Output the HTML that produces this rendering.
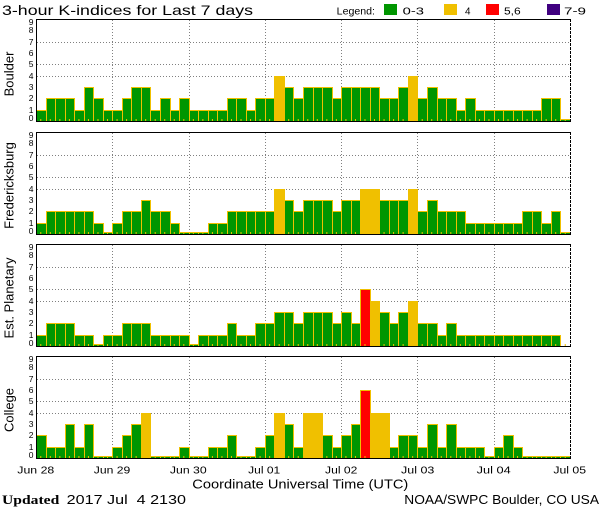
<!DOCTYPE html>
<html><head><meta charset="utf-8"><style>
html,body{margin:0;padding:0;background:#fff;}
svg{display:block;}
text{font-family:"Liberation Sans",sans-serif;fill:#000;}
.b rect{stroke:#f0c000;stroke-width:1;}
.g{fill:#009600;}.y{fill:#f0c000;}.r{fill:#ff0000;}
.grid{stroke:#808080;stroke-width:1;stroke-dasharray:1 2;fill:none;}
.tk{stroke:#f0c000;stroke-width:2;stroke-dasharray:1 8.5357;fill:none;}
.ax{stroke:#000;stroke-width:1;fill:none;}
.rd{stroke:#000;stroke-width:1;stroke-dasharray:3 1;fill:none;}
.yl text{font-size:8.5px;}
.pn{font-size:13px;}
</style></head><body>
<svg width="600" height="510" viewBox="0 0 600 510" xmlns="http://www.w3.org/2000/svg">
<rect x="0" y="0" width="600" height="510" fill="#fff"/>
<text x="2" y="15" font-size="14" textLength="251" lengthAdjust="spacingAndGlyphs">3-hour K-indices for Last 7 days</text>
<text x="336.7" y="14.3" font-size="10" textLength="38.3" lengthAdjust="spacingAndGlyphs">Legend:</text>
<rect x="384" y="4" width="13" height="11" fill="#009600"/>
<text x="402.7" y="14.3" font-size="10" textLength="21.3" lengthAdjust="spacingAndGlyphs">0-3</text>
<rect x="444" y="4" width="13" height="11" fill="#f0c000"/>
<text x="465" y="14.3" font-size="10" textLength="5.5" lengthAdjust="spacingAndGlyphs">4</text>
<rect x="486" y="4" width="13" height="11" fill="#ff0000"/>
<text x="504" y="14.3" font-size="10" textLength="16.7" lengthAdjust="spacingAndGlyphs">5,6</text>
<rect x="547" y="4" width="13" height="11" fill="#400080"/>
<text x="564" y="14.3" font-size="10" textLength="22" lengthAdjust="spacingAndGlyphs">7-9</text>

<!-- Boulder -->
<g transform="translate(0,121)">
<path class="grid" d="M37 -78.5H570M37 -56.5H570M37 -44.5H570"/>
<path class="grid" d="M112.5 -101V0M189.5 -101V0M265.5 -101V0M341.5 -101V0M417.5 -101V0M494.5 -101V0"/>
<g class="b">
<rect class="g" x="36.5" y="-10.5" width="10" height="11"/>
<rect class="g" x="46.5" y="-22.5" width="9" height="23"/>
<rect class="g" x="55.5" y="-22.5" width="10" height="23"/>
<rect class="g" x="65.5" y="-22.5" width="9" height="23"/>
<rect class="g" x="74.5" y="-10.5" width="10" height="11"/>
<rect class="g" x="84.5" y="-33.5" width="9" height="34"/>
<rect class="g" x="93.5" y="-22.5" width="10" height="23"/>
<rect class="g" x="103.5" y="-10.5" width="9" height="11"/>
<rect class="g" x="112.5" y="-10.5" width="10" height="11"/>
<rect class="g" x="122.5" y="-22.5" width="9" height="23"/>
<rect class="g" x="131.5" y="-33.5" width="10" height="34"/>
<rect class="g" x="141.5" y="-33.5" width="9" height="34"/>
<rect class="g" x="150.5" y="-10.5" width="10" height="11"/>
<rect class="g" x="160.5" y="-22.5" width="10" height="23"/>
<rect class="g" x="170.5" y="-10.5" width="9" height="11"/>
<rect class="g" x="179.5" y="-22.5" width="10" height="23"/>
<rect class="g" x="189.5" y="-10.5" width="9" height="11"/>
<rect class="g" x="198.5" y="-10.5" width="10" height="11"/>
<rect class="g" x="208.5" y="-10.5" width="9" height="11"/>
<rect class="g" x="217.5" y="-10.5" width="10" height="11"/>
<rect class="g" x="227.5" y="-22.5" width="9" height="23"/>
<rect class="g" x="236.5" y="-22.5" width="10" height="23"/>
<rect class="g" x="246.5" y="-10.5" width="9" height="11"/>
<rect class="g" x="255.5" y="-22.5" width="10" height="23"/>
<rect class="g" x="265.5" y="-22.5" width="9" height="23"/>
<rect class="y" x="274.5" y="-44.5" width="10" height="45"/>
<rect class="g" x="284.5" y="-33.5" width="9" height="34"/>
<rect class="g" x="293.5" y="-22.5" width="10" height="23"/>
<rect class="g" x="303.5" y="-33.5" width="10" height="34"/>
<rect class="g" x="313.5" y="-33.5" width="9" height="34"/>
<rect class="g" x="322.5" y="-33.5" width="10" height="34"/>
<rect class="g" x="332.5" y="-22.5" width="9" height="23"/>
<rect class="g" x="341.5" y="-33.5" width="10" height="34"/>
<rect class="g" x="351.5" y="-33.5" width="9" height="34"/>
<rect class="g" x="360.5" y="-33.5" width="10" height="34"/>
<rect class="g" x="370.5" y="-33.5" width="9" height="34"/>
<rect class="g" x="379.5" y="-22.5" width="10" height="23"/>
<rect class="g" x="389.5" y="-22.5" width="9" height="23"/>
<rect class="g" x="398.5" y="-33.5" width="10" height="34"/>
<rect class="y" x="408.5" y="-44.5" width="9" height="45"/>
<rect class="g" x="417.5" y="-22.5" width="10" height="23"/>
<rect class="g" x="427.5" y="-33.5" width="10" height="34"/>
<rect class="g" x="437.5" y="-22.5" width="9" height="23"/>
<rect class="g" x="446.5" y="-22.5" width="10" height="23"/>
<rect class="g" x="456.5" y="-10.5" width="9" height="11"/>
<rect class="g" x="465.5" y="-22.5" width="10" height="23"/>
<rect class="g" x="475.5" y="-10.5" width="9" height="11"/>
<rect class="g" x="484.5" y="-10.5" width="10" height="11"/>
<rect class="g" x="494.5" y="-10.5" width="9" height="11"/>
<rect class="g" x="503.5" y="-10.5" width="10" height="11"/>
<rect class="g" x="513.5" y="-10.5" width="9" height="11"/>
<rect class="g" x="522.5" y="-10.5" width="10" height="11"/>
<rect class="g" x="532.5" y="-10.5" width="9" height="11"/>
<rect class="g" x="541.5" y="-22.5" width="10" height="23"/>
<rect class="g" x="551.5" y="-22.5" width="9" height="23"/>
<rect class="g" x="560.5" y="-1.5" width="10" height="2"/>
</g>
<path class="tk" d="M40.27 -1H570"/>
<path class="ax" d="M36 -101.5H571M36.5 -102V1M36 0.5H571"/>
<path class="rd" d="M570.5 -102V1"/>
<g class="yl">
<text x="33.5" y="-96" text-anchor="end">9</text>
<text x="33.5" y="-88" text-anchor="end">8</text>
<text x="33.5" y="-76" text-anchor="end">7</text>
<text x="33.5" y="-65" text-anchor="end">6</text>
<text x="33.5" y="-54" text-anchor="end">5</text>
<text x="33.5" y="-42" text-anchor="end">4</text>
<text x="33.5" y="-31" text-anchor="end">3</text>
<text x="33.5" y="-20" text-anchor="end">2</text>
<text x="33.5" y="-8" text-anchor="end">1</text>
<text x="33.5" y="0" text-anchor="end">0</text>
</g>
<text class="pn" transform="translate(13.5,-47) rotate(-90)" text-anchor="middle">Boulder</text>
</g>

<!-- Fredericksburg -->
<g transform="translate(0,234)">
<path class="grid" d="M37 -78.5H570M37 -56.5H570M37 -44.5H570"/>
<path class="grid" d="M112.5 -101V0M189.5 -101V0M265.5 -101V0M341.5 -101V0M417.5 -101V0M494.5 -101V0"/>
<g class="b">
<rect class="g" x="36.5" y="-10.5" width="10" height="11"/>
<rect class="g" x="46.5" y="-22.5" width="9" height="23"/>
<rect class="g" x="55.5" y="-22.5" width="10" height="23"/>
<rect class="g" x="65.5" y="-22.5" width="9" height="23"/>
<rect class="g" x="74.5" y="-22.5" width="10" height="23"/>
<rect class="g" x="84.5" y="-22.5" width="9" height="23"/>
<rect class="g" x="93.5" y="-10.5" width="10" height="11"/>
<rect class="g" x="103.5" y="-1.5" width="9" height="2"/>
<rect class="g" x="112.5" y="-10.5" width="10" height="11"/>
<rect class="g" x="122.5" y="-22.5" width="9" height="23"/>
<rect class="g" x="131.5" y="-22.5" width="10" height="23"/>
<rect class="g" x="141.5" y="-33.5" width="9" height="34"/>
<rect class="g" x="150.5" y="-22.5" width="10" height="23"/>
<rect class="g" x="160.5" y="-22.5" width="10" height="23"/>
<rect class="g" x="170.5" y="-10.5" width="9" height="11"/>
<rect class="g" x="179.5" y="-1.5" width="10" height="2"/>
<rect class="g" x="189.5" y="-1.5" width="9" height="2"/>
<rect class="g" x="198.5" y="-1.5" width="10" height="2"/>
<rect class="g" x="208.5" y="-10.5" width="9" height="11"/>
<rect class="g" x="217.5" y="-10.5" width="10" height="11"/>
<rect class="g" x="227.5" y="-22.5" width="9" height="23"/>
<rect class="g" x="236.5" y="-22.5" width="10" height="23"/>
<rect class="g" x="246.5" y="-22.5" width="9" height="23"/>
<rect class="g" x="255.5" y="-22.5" width="10" height="23"/>
<rect class="g" x="265.5" y="-22.5" width="9" height="23"/>
<rect class="y" x="274.5" y="-44.5" width="10" height="45"/>
<rect class="g" x="284.5" y="-33.5" width="9" height="34"/>
<rect class="g" x="293.5" y="-22.5" width="10" height="23"/>
<rect class="g" x="303.5" y="-33.5" width="10" height="34"/>
<rect class="g" x="313.5" y="-33.5" width="9" height="34"/>
<rect class="g" x="322.5" y="-33.5" width="10" height="34"/>
<rect class="g" x="332.5" y="-22.5" width="9" height="23"/>
<rect class="g" x="341.5" y="-33.5" width="10" height="34"/>
<rect class="g" x="351.5" y="-33.5" width="9" height="34"/>
<rect class="y" x="360.5" y="-44.5" width="10" height="45"/>
<rect class="y" x="370.5" y="-44.5" width="9" height="45"/>
<rect class="g" x="379.5" y="-33.5" width="10" height="34"/>
<rect class="g" x="389.5" y="-33.5" width="9" height="34"/>
<rect class="g" x="398.5" y="-33.5" width="10" height="34"/>
<rect class="y" x="408.5" y="-44.5" width="9" height="45"/>
<rect class="g" x="417.5" y="-22.5" width="10" height="23"/>
<rect class="g" x="427.5" y="-33.5" width="10" height="34"/>
<rect class="g" x="437.5" y="-22.5" width="9" height="23"/>
<rect class="g" x="446.5" y="-22.5" width="10" height="23"/>
<rect class="g" x="456.5" y="-22.5" width="9" height="23"/>
<rect class="g" x="465.5" y="-10.5" width="10" height="11"/>
<rect class="g" x="475.5" y="-10.5" width="9" height="11"/>
<rect class="g" x="484.5" y="-10.5" width="10" height="11"/>
<rect class="g" x="494.5" y="-10.5" width="9" height="11"/>
<rect class="g" x="503.5" y="-10.5" width="10" height="11"/>
<rect class="g" x="513.5" y="-10.5" width="9" height="11"/>
<rect class="g" x="522.5" y="-22.5" width="10" height="23"/>
<rect class="g" x="532.5" y="-22.5" width="9" height="23"/>
<rect class="g" x="541.5" y="-10.5" width="10" height="11"/>
<rect class="g" x="551.5" y="-22.5" width="9" height="23"/>
<rect class="g" x="560.5" y="-1.5" width="10" height="2"/>
</g>
<path class="tk" d="M40.27 -1H570"/>
<path class="ax" d="M36 -101.5H571M36.5 -102V1M36 0.5H571"/>
<path class="rd" d="M570.5 -102V1"/>
<g class="yl">
<text x="33.5" y="-96" text-anchor="end">9</text>
<text x="33.5" y="-88" text-anchor="end">8</text>
<text x="33.5" y="-76" text-anchor="end">7</text>
<text x="33.5" y="-65" text-anchor="end">6</text>
<text x="33.5" y="-54" text-anchor="end">5</text>
<text x="33.5" y="-42" text-anchor="end">4</text>
<text x="33.5" y="-31" text-anchor="end">3</text>
<text x="33.5" y="-20" text-anchor="end">2</text>
<text x="33.5" y="-8" text-anchor="end">1</text>
<text x="33.5" y="0" text-anchor="end">0</text>
</g>
<text class="pn" transform="translate(13.5,-48.5) rotate(-90)" text-anchor="middle">Fredericksburg</text>
</g>

<!-- Est. Planetary -->
<g transform="translate(0,346)">
<path class="grid" d="M37 -78.5H570M37 -56.5H570M37 -44.5H570"/>
<path class="grid" d="M112.5 -101V0M189.5 -101V0M265.5 -101V0M341.5 -101V0M417.5 -101V0M494.5 -101V0"/>
<g class="b">
<rect class="g" x="36.5" y="-10.5" width="10" height="11"/>
<rect class="g" x="46.5" y="-22.5" width="9" height="23"/>
<rect class="g" x="55.5" y="-22.5" width="10" height="23"/>
<rect class="g" x="65.5" y="-22.5" width="9" height="23"/>
<rect class="g" x="74.5" y="-10.5" width="10" height="11"/>
<rect class="g" x="84.5" y="-10.5" width="9" height="11"/>
<rect class="g" x="93.5" y="-1.5" width="10" height="2"/>
<rect class="g" x="103.5" y="-10.5" width="9" height="11"/>
<rect class="g" x="112.5" y="-10.5" width="10" height="11"/>
<rect class="g" x="122.5" y="-22.5" width="9" height="23"/>
<rect class="g" x="131.5" y="-22.5" width="10" height="23"/>
<rect class="g" x="141.5" y="-22.5" width="9" height="23"/>
<rect class="g" x="150.5" y="-10.5" width="10" height="11"/>
<rect class="g" x="160.5" y="-10.5" width="10" height="11"/>
<rect class="g" x="170.5" y="-10.5" width="9" height="11"/>
<rect class="g" x="179.5" y="-10.5" width="10" height="11"/>
<rect class="g" x="189.5" y="-1.5" width="9" height="2"/>
<rect class="g" x="198.5" y="-10.5" width="10" height="11"/>
<rect class="g" x="208.5" y="-10.5" width="9" height="11"/>
<rect class="g" x="217.5" y="-10.5" width="10" height="11"/>
<rect class="g" x="227.5" y="-22.5" width="9" height="23"/>
<rect class="g" x="236.5" y="-10.5" width="10" height="11"/>
<rect class="g" x="246.5" y="-10.5" width="9" height="11"/>
<rect class="g" x="255.5" y="-22.5" width="10" height="23"/>
<rect class="g" x="265.5" y="-22.5" width="9" height="23"/>
<rect class="g" x="274.5" y="-33.5" width="10" height="34"/>
<rect class="g" x="284.5" y="-33.5" width="9" height="34"/>
<rect class="g" x="293.5" y="-22.5" width="10" height="23"/>
<rect class="g" x="303.5" y="-33.5" width="10" height="34"/>
<rect class="g" x="313.5" y="-33.5" width="9" height="34"/>
<rect class="g" x="322.5" y="-33.5" width="10" height="34"/>
<rect class="g" x="332.5" y="-22.5" width="9" height="23"/>
<rect class="g" x="341.5" y="-33.5" width="10" height="34"/>
<rect class="g" x="351.5" y="-22.5" width="9" height="23"/>
<rect class="r" x="360.5" y="-56.5" width="10" height="57"/>
<rect class="y" x="370.5" y="-44.5" width="9" height="45"/>
<rect class="g" x="379.5" y="-33.5" width="10" height="34"/>
<rect class="g" x="389.5" y="-22.5" width="9" height="23"/>
<rect class="g" x="398.5" y="-33.5" width="10" height="34"/>
<rect class="y" x="408.5" y="-44.5" width="9" height="45"/>
<rect class="g" x="417.5" y="-22.5" width="10" height="23"/>
<rect class="g" x="427.5" y="-22.5" width="10" height="23"/>
<rect class="g" x="437.5" y="-10.5" width="9" height="11"/>
<rect class="g" x="446.5" y="-22.5" width="10" height="23"/>
<rect class="g" x="456.5" y="-10.5" width="9" height="11"/>
<rect class="g" x="465.5" y="-10.5" width="10" height="11"/>
<rect class="g" x="475.5" y="-10.5" width="9" height="11"/>
<rect class="g" x="484.5" y="-10.5" width="10" height="11"/>
<rect class="g" x="494.5" y="-10.5" width="9" height="11"/>
<rect class="g" x="503.5" y="-10.5" width="10" height="11"/>
<rect class="g" x="513.5" y="-10.5" width="9" height="11"/>
<rect class="g" x="522.5" y="-10.5" width="10" height="11"/>
<rect class="g" x="532.5" y="-10.5" width="9" height="11"/>
<rect class="g" x="541.5" y="-10.5" width="10" height="11"/>
<rect class="g" x="551.5" y="-10.5" width="9" height="11"/>
</g>
<path class="tk" d="M40.27 -1H570"/>
<path class="ax" d="M36 -101.5H571M36.5 -102V1M36 0.5H571"/>
<path class="rd" d="M570.5 -102V1"/>
<g class="yl">
<text x="33.5" y="-96" text-anchor="end">9</text>
<text x="33.5" y="-88" text-anchor="end">8</text>
<text x="33.5" y="-76" text-anchor="end">7</text>
<text x="33.5" y="-65" text-anchor="end">6</text>
<text x="33.5" y="-54" text-anchor="end">5</text>
<text x="33.5" y="-42" text-anchor="end">4</text>
<text x="33.5" y="-31" text-anchor="end">3</text>
<text x="33.5" y="-20" text-anchor="end">2</text>
<text x="33.5" y="-8" text-anchor="end">1</text>
<text x="33.5" y="0" text-anchor="end">0</text>
</g>
<text class="pn" transform="translate(13.5,-48) rotate(-90)" text-anchor="middle">Est. Planetary</text>
</g>

<!-- College -->
<g transform="translate(0,458)">
<path class="grid" d="M37 -78.5H570M37 -56.5H570M37 -44.5H570"/>
<path class="grid" d="M112.5 -101V0M189.5 -101V0M265.5 -101V0M341.5 -101V0M417.5 -101V0M494.5 -101V0"/>
<g class="b">
<rect class="g" x="36.5" y="-22.5" width="10" height="23"/>
<rect class="g" x="46.5" y="-10.5" width="9" height="11"/>
<rect class="g" x="55.5" y="-10.5" width="10" height="11"/>
<rect class="g" x="65.5" y="-33.5" width="9" height="34"/>
<rect class="g" x="74.5" y="-10.5" width="10" height="11"/>
<rect class="g" x="84.5" y="-33.5" width="9" height="34"/>
<rect class="g" x="93.5" y="-1.5" width="10" height="2"/>
<rect class="g" x="103.5" y="-1.5" width="9" height="2"/>
<rect class="g" x="112.5" y="-10.5" width="10" height="11"/>
<rect class="g" x="122.5" y="-22.5" width="9" height="23"/>
<rect class="g" x="131.5" y="-33.5" width="10" height="34"/>
<rect class="y" x="141.5" y="-44.5" width="9" height="45"/>
<rect class="g" x="150.5" y="-1.5" width="10" height="2"/>
<rect class="g" x="160.5" y="-1.5" width="10" height="2"/>
<rect class="g" x="170.5" y="-1.5" width="9" height="2"/>
<rect class="g" x="179.5" y="-10.5" width="10" height="11"/>
<rect class="g" x="189.5" y="-1.5" width="9" height="2"/>
<rect class="g" x="198.5" y="-1.5" width="10" height="2"/>
<rect class="g" x="208.5" y="-10.5" width="9" height="11"/>
<rect class="g" x="217.5" y="-10.5" width="10" height="11"/>
<rect class="g" x="227.5" y="-22.5" width="9" height="23"/>
<rect class="g" x="236.5" y="-1.5" width="10" height="2"/>
<rect class="g" x="246.5" y="-1.5" width="9" height="2"/>
<rect class="g" x="255.5" y="-10.5" width="10" height="11"/>
<rect class="g" x="265.5" y="-22.5" width="9" height="23"/>
<rect class="y" x="274.5" y="-44.5" width="10" height="45"/>
<rect class="g" x="284.5" y="-33.5" width="9" height="34"/>
<rect class="g" x="293.5" y="-10.5" width="10" height="11"/>
<rect class="y" x="303.5" y="-44.5" width="10" height="45"/>
<rect class="y" x="313.5" y="-44.5" width="9" height="45"/>
<rect class="g" x="322.5" y="-22.5" width="10" height="23"/>
<rect class="g" x="332.5" y="-10.5" width="9" height="11"/>
<rect class="g" x="341.5" y="-22.5" width="10" height="23"/>
<rect class="g" x="351.5" y="-33.5" width="9" height="34"/>
<rect class="r" x="360.5" y="-67.5" width="10" height="68"/>
<rect class="y" x="370.5" y="-44.5" width="9" height="45"/>
<rect class="y" x="379.5" y="-44.5" width="10" height="45"/>
<rect class="g" x="389.5" y="-10.5" width="9" height="11"/>
<rect class="g" x="398.5" y="-22.5" width="10" height="23"/>
<rect class="g" x="408.5" y="-22.5" width="9" height="23"/>
<rect class="g" x="417.5" y="-10.5" width="10" height="11"/>
<rect class="g" x="427.5" y="-33.5" width="10" height="34"/>
<rect class="g" x="437.5" y="-10.5" width="9" height="11"/>
<rect class="g" x="446.5" y="-33.5" width="10" height="34"/>
<rect class="g" x="456.5" y="-10.5" width="9" height="11"/>
<rect class="g" x="465.5" y="-10.5" width="10" height="11"/>
<rect class="g" x="475.5" y="-10.5" width="9" height="11"/>
<rect class="g" x="484.5" y="-1.5" width="10" height="2"/>
<rect class="g" x="494.5" y="-10.5" width="9" height="11"/>
<rect class="g" x="503.5" y="-22.5" width="10" height="23"/>
<rect class="g" x="513.5" y="-10.5" width="9" height="11"/>
<rect class="g" x="522.5" y="-1.5" width="10" height="2"/>
<rect class="g" x="532.5" y="-1.5" width="9" height="2"/>
<rect class="g" x="541.5" y="-1.5" width="10" height="2"/>
<rect class="g" x="551.5" y="-1.5" width="9" height="2"/>
<rect class="g" x="560.5" y="-1.5" width="10" height="2"/>
</g>
<path class="tk" d="M40.27 -1H570"/>
<path class="ax" d="M36 -101.5H571M36.5 -102V1M36 0.5H571"/>
<path class="rd" d="M570.5 -102V1"/>
<g class="yl">
<text x="33.5" y="-96" text-anchor="end">9</text>
<text x="33.5" y="-88" text-anchor="end">8</text>
<text x="33.5" y="-76" text-anchor="end">7</text>
<text x="33.5" y="-65" text-anchor="end">6</text>
<text x="33.5" y="-54" text-anchor="end">5</text>
<text x="33.5" y="-42" text-anchor="end">4</text>
<text x="33.5" y="-31" text-anchor="end">3</text>
<text x="33.5" y="-20" text-anchor="end">2</text>
<text x="33.5" y="-8" text-anchor="end">1</text>
<text x="33.5" y="0" text-anchor="end">0</text>
</g>
<text class="pn" transform="translate(13.5,-48) rotate(-90)" text-anchor="middle">College</text>
</g>

<!-- X labels -->
<g font-size="10.5">
<text x="35.8" y="473.5" text-anchor="middle" textLength="37" lengthAdjust="spacingAndGlyphs">Jun 28</text>
<text x="112" y="473.5" text-anchor="middle" textLength="36.5" lengthAdjust="spacingAndGlyphs">Jun 29</text>
<text x="188.3" y="473.5" text-anchor="middle" textLength="36.7" lengthAdjust="spacingAndGlyphs">Jun 30</text>
<text x="264.2" y="473.5" text-anchor="middle" textLength="32" lengthAdjust="spacingAndGlyphs">Jul 01</text>
<text x="341.2" y="473.5" text-anchor="middle" textLength="32.3" lengthAdjust="spacingAndGlyphs">Jul 02</text>
<text x="417.7" y="473.5" text-anchor="middle" textLength="33.3" lengthAdjust="spacingAndGlyphs">Jul 03</text>
<text x="493.7" y="473.5" text-anchor="middle" textLength="34" lengthAdjust="spacingAndGlyphs">Jul 04</text>
<text x="569.7" y="473.5" text-anchor="middle" textLength="32.7" lengthAdjust="spacingAndGlyphs">Jul 05</text>
</g>
<text x="192.3" y="488.5" font-size="12.5" textLength="216" lengthAdjust="spacingAndGlyphs">Coordinate Universal Time (UTC)</text>
<text x="2" y="504" font-size="13" font-weight="bold" style="font-family:'Liberation Serif',serif" textLength="57.3" lengthAdjust="spacingAndGlyphs">Updated</text>
<text x="66.7" y="504" font-size="12.5" textLength="119.3" lengthAdjust="spacingAndGlyphs" xml:space="preserve">2017 Jul  4 2130</text>
<text x="404.3" y="504" font-size="12.5" textLength="194.7" lengthAdjust="spacingAndGlyphs">NOAA/SWPC Boulder, CO USA</text>
</svg>
</body></html>
